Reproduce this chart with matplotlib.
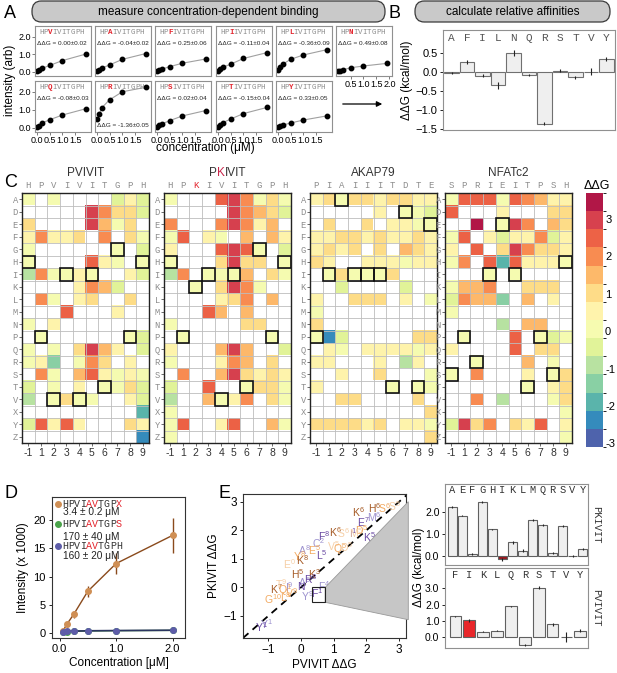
import numpy as np
import matplotlib
matplotlib.use("Agg")
import matplotlib.pyplot as plt
from matplotlib.colors import BoundaryNorm, ListedColormap
from matplotlib.patches import FancyBboxPatch, Rectangle, Polygon, FancyArrowPatch
from matplotlib.transforms import offset_copy

plt.rcParams['font.family'] = ['Liberation Sans', 'DejaVu Sans']
plt.rcParams['mathtext.default'] = 'regular'

# ---------------- DATA ----------------
# Panel A
conc_A = [0.03, 0.1, 0.2, 0.5, 1.0, 1.9]
peptides_A = ["HPVIVITGPH", "HPAIVITGPH", "HPFIVITGPH", "HPIIVITGPH", "HPLIVITGPH", "HPNIVITGPH",
              "HPQIVITGPH", "HPRIVITGPH", "HPSIVITGPH", "HPTIVITGPH", "HPYIVITGPH"]
ddg_text_A = ["0.00±0.02", "-0.04±0.02", "0.25±0.06", "-0.11±0.04", "-0.36±0.09", "0.49±0.08",
              "-0.08±0.03", "-1.36±0.05", "0.02±0.04", "-0.15±0.04", "0.33±0.05"]
intensity_A = [
    [0.02, 0.08, 0.18, 0.35, 0.63, 1.00],
    [0.03, 0.10, 0.20, 0.38, 0.70, 1.03],
    [0.02, 0.07, 0.14, 0.28, 0.48, 0.72],
    [0.04, 0.15, 0.25, 0.42, 0.75, 1.08],
    [0.12, 0.25, 0.42, 0.70, 0.95, 1.25],
    [0.02, 0.05, 0.10, 0.22, 0.32, 0.47],
    [0.03, 0.10, 0.25, 0.43, 0.70, 1.05],
    [0.45, 0.75, 1.10, 1.55, 2.00, 2.25],
    [0.05, 0.12, 0.20, 0.38, 0.65, 0.95],
    [0.05, 0.16, 0.27, 0.47, 0.78, 1.12],
    [0.02, 0.08, 0.14, 0.25, 0.42, 0.65],
]

# Panel B
aa_B = ["A", "F", "I", "L", "N", "Q", "R", "S", "T", "V", "Y"]
ddg_B = [-0.04, 0.25, -0.11, -0.36, 0.49, -0.08, -1.36, 0.02, -0.15, 0.0, 0.33]
err_B = [0.02, 0.06, 0.04, 0.09, 0.08, 0.03, 0.05, 0.04, 0.04, 0.10, 0.05]

# Panel C
rows_C = list("ADEFGHIKLMNPQRSTVXYZ")
cols_C = ["-1", "1", "2", "3", "4", "5", "6", "7", "8", "9"]
n = np.nan
titles_C = ["PVIVIT", "PKIVIT", "AKAP79", "NFATc2"]
seqs_C = ["HPVIVITGPH", "HPKIVITGPH", "PIAIIITDTE", "SPRIEITPSH"]
ddg_pvivit = [
    [0.1, n, 0.1, n, n, n, n, -0.4, 0.5, -0.4],
    [n, n, n, n, n, 2.8, 2.0, 0.8, 1.1, -0.2],
    [1.0, n, n, n, n, 2.8, 1.3, 0.0, 0.8, n],
    [0.5, 2.0, 0.5, 0.7, 0.8, n, 2.0, n, 0.9, 0.3],
    [0.3, n, n, n, n, n, n, 0.0, n, -0.4],
    [0.0, n, n, n, n, 2.5, 0.6, 0.1, n, 0.0],
    [-1.0, 1.8, 0.2, 0.0, 0.6, 0.0, n, n, 0.7, -0.3],
    [n, n, n, n, 0.7, 2.0, 1.3, -0.3, n, n],
    [n, 1.9, 0.0, n, 0.6, 0.8, n, n, 0.9, n],
    [n, n, n, 2.5, n, n, n, 0.5, n, n],
    [0.0, n, 0.5, n, n, n, n, n, n, n],
    [n, 0.0, n, n, n, n, n, n, 0.0, -0.3],
    [0.3, n, 0.1, n, 1.2, 2.8, 1.5, 0.7, n, -0.5],
    [0.2, 0.7, -1.2, n, 0.1, 2.2, 1.0, n, 0.7, n],
    [n, 1.9, 0.3, n, 1.6, 2.6, 0.7, 0.3, 0.7, 0.3],
    [-0.3, n, 0.0, n, 0.5, n, 0.0, 0.3, 1.0, -0.2],
    [-0.9, n, 0.0, 1.1, 0.0, 0.3, n, n, 0.4, -0.2],
    [n, n, n, n, n, n, n, n, n, -2.0],
    [-0.4, 2.3, 0.5, 2.6, 0.5, n, n, n, 0.9, 0.4],
    [n, n, n, n, n, n, n, n, n, -2.5],
]
ddg_pkivit = [
    [0.1, n, n, n, 2.4, 3.1, 2.1, 0.2, 0.8, 0.3],
    [n, n, n, n, n, 3.0, 2.1, 1.3, 1.2, -0.2],
    [1.8, n, n, n, 1.8, 2.8, 1.9, 0.6, 1.4, n],
    [0.1, 2.4, n, 0.6, 0.3, n, 1.6, n, 1.6, 0.5],
    [0.5, n, n, n, 2.5, 3.1, 2.6, 0.0, n, -0.3],
    [0.0, n, n, n, 1.2, 2.8, 0.8, 0.8, n, 0.0],
    [-1.1, 1.8, n, 0.0, 0.2, 0.0, 1.7, n, 1.0, 0.2],
    [n, n, 0.0, n, 0.9, 2.8, 2.0, 0.2, n, n],
    [n, n, n, n, 0.6, 1.2, 1.8, n, 1.4, n],
    [n, n, n, 2.6, 1.6, n, 1.7, n, n, n],
    [0.2, n, n, n, n, n, 1.2, 1.1, n, n],
    [n, 0.0, n, n, n, n, n, n, 0.0, n],
    [0.4, n, n, n, 1.5, 2.9, 1.6, n, n, -0.2],
    [0.3, n, n, n, 0.7, 2.2, 1.4, n, 1.0, n],
    [n, 1.8, n, n, 1.5, 2.8, 0.8, 0.7, 1.2, 0.4],
    [-0.2, n, n, 2.6, n, n, 0.0, 0.8, 1.2, 0.3],
    [-1.0, n, n, 1.6, 0.0, 0.6, 1.8, n, 0.9, 0.3],
    [0.2, n, n, n, n, n, n, n, n, n],
    [0.2, 2.4, n, n, 0.6, 2.3, n, n, 1.6, 0.2],
    [0.2, n, n, n, n, n, n, n, n, n],
]
ddg_akap79 = [
    [0.7, 0.8, 0.0, 0.8, 0.8, 0.7, 0.8, 0.9, 0.6, 0.4],
    [n, n, n, n, n, 0.7, n, 0.0, 0.1, -0.2],
    [n, 1.0, n, n, 0.8, n, 0.4, 0.6, 0.2, 0.0],
    [0.6, 0.7, 0.9, 0.9, 0.7, 0.9, 0.6, 0.6, 0.9, 0.5],
    [0.6, 0.8, 0.7, 0.8, n, 0.8, n, 1.4, 1.1, 0.5],
    [0.8, 0.6, n, n, 0.7, 0.7, 0.5, 0.0, 0.4, 0.4],
    [n, 0.0, 0.8, 0.0, 0.0, 0.0, 0.9, n, n, n],
    [n, n, -0.3, n, n, n, n, -0.4, n, n],
    [0.5, n, n, 0.8, 0.8, 0.8, n, 0.5, n, 0.3],
    [0.2, n, n, n, n, n, n, n, n, n],
    [0.8, n, n, n, n, n, n, n, n, n],
    [0.0, -2.4, -0.4, n, n, n, n, n, 0.8, 0.8],
    [n, 0.6, 0.2, n, 0.6, 0.7, 0.7, 0.4, 0.3, 0.5],
    [0.5, 0.7, n, n, n, 0.6, n, -0.8, 0.7, n],
    [n, n, 0.6, n, n, 0.8, n, n, n, 0.3],
    [0.5, n, n, n, n, n, 0.0, n, 0.0, 0.2],
    [n, n, 0.8, 0.8, n, n, n, n, 0.8, n],
    [n, n, n, n, n, n, n, n, n, 0.8],
    [0.8, 0.8, 0.9, 0.9, 0.7, 1.2, n, 0.5, 0.7, 0.3],
    [n, n, n, n, n, n, n, n, n, 0.8],
]
ddg_nfatc2 = [
    [0.1, 2.7, 2.4, 2.5, 0.2, 2.5, 1.9, 1.5, 0.6, 0.6],
    [2.5, n, n, n, 0.6, n, n, n, 1.2, 0.8],
    [n, n, 3.5, n, 0.0, 2.9, 2.2, n, 1.3, 1.2],
    [0.1, 2.7, n, 0.5, -0.4, 0.7, 0.6, 2.2, -0.2, 0.5],
    [0.5, n, 2.7, n, 1.0, 2.8, 2.0, 1.0, 0.8, 0.4],
    [-0.1, 1.8, n, 2.3, -2.0, 2.4, 0.4, 0.4, 0.6, 0.0],
    [n, n, n, 0.0, n, 0.0, n, n, n, n],
    [0.0, 1.3, 1.3, 2.1, n, n, 0.9, 0.9, 0.8, n],
    [-0.6, 2.2, 1.5, 1.3, -1.4, n, 1.4, n, 0.6, n],
    [0.0, n, n, n, n, n, n, n, n, n],
    [n, n, n, n, -0.8, n, 1.5, 1.5, n, n],
    [n, 0.0, n, n, n, 2.4, n, 0.0, -0.4, -0.1],
    [0.4, n, n, n, n, 2.7, n, 0.8, 1.0, n],
    [n, n, 0.0, n, n, n, 1.4, n, 0.3, n],
    [0.0, n, 2.2, n, n, n, 0.5, n, 0.0, 1.0],
    [n, n, n, n, n, n, 0.0, n, 0.5, 1.2],
    [n, n, 2.0, n, -1.1, n, n, n, 0.3, 0.8],
    [n, n, n, n, n, n, n, n, n, 0.3],
    [-0.5, 2.8, 1.0, 1.8, n, 1.2, 0.6, 2.3, n, 0.5],
    [n, n, n, n, n, n, n, n, n, 0.2],
]
cbar_ticks = [-3, -2, -1, 0, 1, 2, 3]

# Panel D
conc_D = [0.0625, 0.125, 0.25, 0.5, 1.0, 2.0]
int_X = [0.4, 1.5, 3.3, 7.4, 12.3, 17.3]
err_X = [0.3, 0.4, 0.6, 1.0, 1.9, 3.1]
int_S = [0.2, 0.25, 0.3, 0.35, 0.4, 0.45]
err_S = [0.1, 0.1, 0.1, 0.1, 0.1, 0.1]
int_H = [0.25, 0.3, 0.32, 0.38, 0.42, 0.48]
err_H = [0.1, 0.1, 0.1, 0.1, 0.1, 0.1]
legend_D = [("HPVIAVTGPX", "3.4 ± 0.2 μM"), ("HPVIAVTGPS", "170 ± 40 μM"), ("HPVIAVTGPH", "160 ± 20 μM")]

# Panel E scatter (PVIVIT ddG, PKIVIT ddG)
lab_E = ["K", "H", "S", "S", "E", "M", "I", "D", "K", "F", "K", "S", "C", "E", "L", "V", "Q", "D",
         "A", "Y", "K", "E", "H", "K", "A", "N", "F", "K", "F", "G", "L", "Y", "Y", "I", "T", "Y",
         "V", "R", "Q", "M"]
sup_E = ["6", "6", "6", "5", "7", "6", "1", "5", "5", "8", "6", "6", "2", "5", "5", "5", "5", "5",
         "8", "8", "8", "0", "5", "3", "5", "", "4", "7", "1", "10", "8", "1", "1", "9", "9", "9",
         "9", "8", "1", "5"]
pv_E = [1.75, 2.25, 2.55, 2.85, 1.9, 2.25, 1.6, 1.85, 2.1, 0.7, 1.05, 1.3, 0.55, 0.4, 0.65, 1.0, 1.2, 1.4,
        0.1, -0.05, 0.05, -0.35, -0.1, 0.4, 0.1, 0.0, 0.7, -0.75, 0.5, -0.85, -0.45, -1.05, -1.2, -0.35,
        -0.6, 0.2, -0.3, 0.3, -0.5, 1.7]
pk_E = [2.65, 2.78, 2.78, 2.85, 2.28, 2.45, 1.9, 2.02, 1.75, 1.78, 1.95, 1.9, 1.55, 1.3, 1.12, 1.45, 1.35,
        1.4, 1.3, 1.1, 0.95, 0.8, 0.45, 0.45, 0.2, 0.0, 0.05, -0.05, -0.2, -0.4, -0.35, -1.3, -1.4, 0.0,
        0.1, -0.3, -0.2, 0.3, -0.1, 1.9]
grp_E = ["b", "b", "o", "p", "u", "l", "u", "o", "u", "u", "b", "p", "l", "o", "u", "p", "o", "p",
         "l", "o", "b", "p", "b", "b", "l", "u", "l", "b", "u", "o", "o", "l", "u", "l", "p", "l",
         "o", "u", "o", "p"]

aa_Etop = ["A", "E", "F", "G", "H", "I", "K", "L", "M", "Q", "R", "S", "V", "Y"]
ddg_Etop = [2.22, 1.83, 0.08, 2.45, 1.2, -0.15, 0.62, 0.25, 1.63, 1.42, 0.15, 1.37, 0.0, 0.33]
err_Etop = [0.05, 0.04, 0.05, 0.05, 0.04, 0.08, 0.06, 0.07, 0.05, 0.05, 0.05, 0.04, 0.03, 0.05]
aa_Ebot = ["F", "I", "K", "L", "Q", "R", "S", "T", "V", "Y"]
ddg_Ebot = [1.3, 1.05, 0.35, 0.42, 1.9, -0.45, 3.05, 0.8, 0.0, 0.42]
err_Ebot = [0.04, 0.1, 0.05, 0.05, 0.03, 0.05, 0.1, 0.08, 0.3, 0.1]

# ---------------- FIGURE ----------------
W, H = 617, 673
fig = plt.figure(figsize=(W / 100, H / 100), dpi=100)
MONO = 'Liberation Mono'
GRAY = '#8c8c8c'
RED = '#e3232c'


def pbox(x0, y0, x1, y1):
    return [x0 / W, 1 - y1 / H, (x1 - x0) / W, (y1 - y0) / H]


def fx(x):
    return x / W


def fy(y):
    return 1 - y / H


def mono_string(x, y, s, colors, size, transform, weights=None, **kw):
    cw = 0.6 * size
    for i, ch in enumerate(s):
        tr = offset_copy(transform, fig=fig, x=(i + 0.5) * cw, y=0, units='points')
        fig.text(x, y, ch, color=colors[i], fontsize=size, family=MONO, transform=tr,
                 ha='center', fontweight=(weights[i] if weights else 'normal'), **kw)


def panel_label(x, y, s):
    fig.text(fx(x), fy(y), s, fontsize=13, ha='left', va='center')


# banners
for x0, x1, lab in [(32, 385, 'measure concentration-dependent binding'),
                    (415, 610, 'calculate relative affinities')]:
    p = FancyBboxPatch((fx(x0), fy(22)), (x1 - x0) / W, 21 / H,
                       boxstyle='round,pad=0,rounding_size=0.0150', transform=fig.transFigure,
                       fc='#c9c9c9', ec='#3a3a3a', lw=0.9)
    fig.patches.append(p)
    fig.text(fx((x0 + x1) / 2), fy(12), lab, ha='center', va='center', fontsize=8.5)

panel_label(4, 13, 'A')
panel_label(388, 13, 'B')
panel_label(4, 183, 'C')
panel_label(4, 493, 'D')
panel_label(218, 493, 'E')

# ---------- Panel A ----------
lefts_A = [35, 95, 155, 216, 276, 336]
rows_A = [(26, 76), (81, 132)]
for k, pep in enumerate(peptides_A):
    r = 0 if k < 6 else 1
    c = k if k < 6 else k - 6
    ax = fig.add_axes(pbox(lefts_A[c], rows_A[r][0], lefts_A[c] + 56, rows_A[r][1]))
    ax.plot(conc_A, intensity_A[k], color='#a0a0a0', lw=0.8, zorder=1)
    ax.plot(conc_A, intensity_A[k], 'o', color='black', ms=3.2, zorder=2)
    ax.set_xlim(-0.06, 2.1)
    ax.set_ylim(-0.25, 2.6)
    for s in ax.spines.values():
        s.set_color('#909090')
        s.set_linewidth(0.8)
    ax.tick_params(labelsize=6.5, length=2, width=0.6, color='#666', pad=1)
    ax.set_yticks([0, 1, 2])
    if c == 0:
        ax.set_yticklabels(['0.0', '1.0', '2.0'])
    else:
        ax.set_yticklabels([])
        ax.tick_params(axis='y', length=0)
    if r == 1:
        ax.set_xticks([0, 0.5, 1.0, 1.5])
        ax.set_xticklabels(['0.0', '0.5', '1.0', '1.5'])
    elif k == 5:
        ax.set_xticks([0.5, 1.0, 1.5, 2.0])
        ax.set_xticklabels(['0.5', '1.0', '1.5', '2.0'])
    else:
        ax.set_xticks([])
    colors = [GRAY] * 10
    colors[2] = RED
    weights = ['normal'] * 10
    weights[2] = 'bold'
    mono_string(0.07, 0.87, pep, colors, 5.4, ax.transAxes, weights=weights, va='center')
    ty = 0.12 if pep[2] == 'R' else 0.66
    ax.text(0.04, ty, 'ΔΔG = ' + ddg_text_A[k], transform=ax.transAxes, fontsize=4.6,
            va='center', ha='left', color='#222')

fig.text(fx(10), fy(80), 'intensity (arb)', rotation=90, ha='center', va='center', fontsize=8.5)
fig.text(fx(205), fy(148), 'concentration (μM)', ha='center', va='center', fontsize=8.5)
arr = FancyArrowPatch((fx(340), fy(104)), (fx(385), fy(104)), transform=fig.transFigure,
                      arrowstyle='-|>', mutation_scale=8, color='black', lw=0.9)
fig.patches.append(arr)

# ---------- Panel B ----------
axB = fig.add_axes(pbox(443, 30, 615, 130))
xB = np.arange(len(aa_B))
axB.bar(xB, ddg_B, width=0.92, color='#efefef', edgecolor='#707070', lw=0.8)
axB.errorbar(xB, ddg_B, yerr=err_B, fmt='none', ecolor='#222', elinewidth=0.8, capsize=0)
axB.set_xlim(-0.55, len(aa_B) - 0.45)
axB.set_ylim(-1.53, 1.09)
axB.set_yticks([-1.5, -1.0, -0.5, 0.0, 0.5])
axB.set_yticklabels(['−1.5', '−1.0', '−0.5', '0.0', '0.5'])
axB.set_xticks([])
axB.tick_params(labelsize=8, length=2.5, width=0.6, pad=1.5)
for s in axB.spines.values():
    s.set_color('#909090')
    s.set_linewidth(0.8)
for i, a in enumerate(aa_B):
    axB.text(i, 0.88, a, ha='center', va='center', family=MONO, fontsize=8, color='#555')
axB.set_ylabel('ΔΔG (kcal/mol)', fontsize=8.5, labelpad=2)

# ---------- Panel C ----------
bounds = np.linspace(-3.1, 3.7, 15)
base = plt.get_cmap('Spectral_r')
cmap = ListedColormap(base((np.arange(14) + 0.5) / 14))
cmap.set_bad('white')
norm = BoundaryNorm(bounds, cmap.N)
lefts_C = [22, 164, 310, 445]
datasets = [ddg_pvivit, ddg_pkivit, ddg_akap79, ddg_nfatc2]
for h in range(4):
    ax = fig.add_axes(pbox(lefts_C[h], 193, lefts_C[h] + 127, 443))
    arrd = np.ma.masked_invalid(np.array(datasets[h], dtype=float))
    ax.imshow(arrd, cmap=cmap, norm=norm, aspect='auto', interpolation='nearest',
              extent=(-0.5, 9.5, 19.5, -0.5))
    ax.set_xticks(np.arange(-0.5, 10, 1), minor=True)
    ax.set_yticks(np.arange(-0.5, 20, 1), minor=True)
    ax.grid(which='minor', color='#bdbdbd', lw=0.6)
    ax.tick_params(which='minor', length=0)
    ax.set_xticks(range(10))
    ax.set_xticklabels(cols_C)
    ax.set_yticks(range(20))
    ax.set_yticklabels(rows_C, family=MONO, color=GRAY)
    ax.tick_params(axis='y', labelsize=6.3, length=2, width=0.6, color='#555', pad=1)
    ax.tick_params(axis='x', labelsize=7.5, length=2, width=0.6, color='#555', pad=1.5,
                   labelcolor='#333')
    ax.set_xlim(-0.5, 9.5)
    ax.set_ylim(19.5, -0.5)
    for s in ax.spines.values():
        s.set_color('#222')
        s.set_linewidth(1.0)
    seq = seqs_C[h]
    for j, ch in enumerate(seq):
        col = RED if (h == 1 and j == 2) else GRAY
        ax.text(j, -0.75, ch, ha='center', va='bottom', family=MONO, fontsize=6.5, color=col,
                clip_on=False)
        i = rows_C.index(ch)
        ax.add_patch(Rectangle((j - 0.5, i - 0.5), 1, 1, fill=False, ec='#111', lw=1.2, zorder=5))
    title = titles_C[h]
    if h == 1:
        t0 = ax.text(0.5, 1.055, title, transform=ax.transAxes, ha='center', va='bottom',
                     fontsize=8.5, alpha=0)
        t1 = ax.annotate('P', xy=(0, 0), xycoords=t0, ha='left', va='bottom', fontsize=8.5,
                         color='#333', annotation_clip=False)
        t2 = ax.annotate('K', xy=(1, 0), xycoords=t1, ha='left', va='bottom', fontsize=8.5,
                         color='#c8254a', annotation_clip=False)
        ax.annotate('IVIT', xy=(1, 0), xycoords=t2, ha='left', va='bottom', fontsize=8.5,
                    color='#333', annotation_clip=False)
    else:
        ax.text(0.5, 1.055, title, transform=ax.transAxes, ha='center', va='bottom',
                fontsize=8.5, color='#333')

cax = fig.add_axes(pbox(586, 193, 603, 447))
cb = fig.colorbar(plt.cm.ScalarMappable(norm=norm, cmap=cmap), cax=cax, ticks=cbar_ticks)
cb.outline.set_visible(False)
cax.tick_params(length=0, labelsize=8, pad=1.5)
cax.set_yticklabels([str(t) for t in cbar_ticks])
fig.text(fx(597), fy(186), 'ΔΔG', ha='center', va='center', fontsize=9)

# ---------- Panel D ----------
axD = fig.add_axes(pbox(52, 497, 185, 638))
axD.errorbar(conc_D, int_X, yerr=err_X, color='#8a4a1c', lw=1.0, elinewidth=1.0, marker='o',
             ms=4, mfc='#cf8f55', mec='#cf8f55', capsize=0, zorder=3)
axD.errorbar(conc_D, int_S, yerr=err_S, color='#2f7a2f', lw=1.0, marker='o', ms=4,
             mfc='#4aa34a', mec='#4aa34a', capsize=0, zorder=2)
axD.errorbar(conc_D, int_H, yerr=err_H, color='#2b3560', lw=1.2, marker='o', ms=4,
             mfc='#5d5ca8', mec='#5d5ca8', capsize=0, zorder=4)
axD.set_xlim(-0.135, 2.22)
axD.set_ylim(-0.9, 24.1)
axD.set_xticks([0, 1, 2])
axD.set_xticklabels(['0.0', '1.0', '2.0'])
axD.set_yticks([0, 5, 10, 15, 20])
axD.tick_params(labelsize=8, length=2.5, width=0.6, pad=2)
for s in axD.spines.values():
    s.set_color('#333')
    s.set_linewidth(0.8)
axD.set_xlabel('Concentration [μM]', fontsize=8.5, labelpad=2)
axD.set_ylabel('Intensity (x 1000)', fontsize=8.5, labelpad=3)
mk_cols = ['#cf8f55', '#4aa34a', '#5d5ca8']
leg_y = [(504, 511), (524, 536), (546, 555)]
for (pep, kd), mc, (y1, y2) in zip(legend_D, mk_cols, leg_y):
    fig.add_artist(plt.Line2D([fx(58)], [fy(y1)], marker='o', ms=4, color=mc,
                              transform=fig.transFigure))
    colors = ['#333'] * 10
    colors[4] = RED
    colors[5] = RED
    if pep[-1] != 'H':
        colors[9] = RED
    mono_string(fx(62), fy(y1), pep, colors, 7.2, fig.transFigure, va='center')
    fig.text(fx(63), fy(y2 + 1), kd, fontsize=7.3, va='center', color='#222')

# ---------- Panel E ----------
axE = fig.add_axes(pbox(243, 494, 406, 638))
axE.set_xlim(-1.77, 3.21)
axE.set_ylim(-1.77, 3.27)
axE.plot([-1.77, 3.27], [-1.77, 3.27], ls=(0, (4, 3)), color='black', lw=1.3, zorder=1)
grp_col = {'b': '#a55a25', 'o': '#f2aa62', 'u': '#6a4aa3', 'l': '#9d92cf', 'p': '#f6cfa6'}
for L, sp, x, y, g in zip(lab_E, sup_E, pv_E, pk_E, grp_E):
    s = L if sp == '' else L + '$^{' + sp + '}$'
    axE.text(x, y, s, color=grp_col[g], fontsize=7.5, ha='center', va='center', zorder=2)
axE.add_patch(Polygon([(0.74, 0.0), (3.28, 3.0), (3.28, -1.13), (0.74, -0.52)], closed=True,
                      fc='#c6c6c6', ec='#999', lw=0.6, clip_on=False, zorder=3))
axE.add_patch(Rectangle((0.35, -0.52), 0.39, 0.52, fill=False, ec='#222', lw=0.8, zorder=4))
axE.set_xticks([-1, 0, 1, 2, 3])
axE.set_xticklabels(['−1', '0', '1', '2', '3'])
axE.set_yticks([-1, 0, 1, 2, 3])
axE.set_yticklabels(['−1', '0', '1', '2', '3'])
axE.tick_params(labelsize=8.5, length=2.5, width=0.6, pad=2)
for s in axE.spines.values():
    s.set_color('#333')
    s.set_linewidth(0.8)
axE.set_xlabel('PVIVIT ΔΔG', fontsize=8.5, labelpad=2)
axE.set_ylabel('PKIVIT ΔΔG', fontsize=8.5, labelpad=2)


def side_bars(box, aa, vals, errs, ylim, yt, ylet, red_idx, red_col, side_lab):
    ax = fig.add_axes(box)
    x = np.arange(len(aa))
    cols = ['#efefef'] * len(aa)
    cols[red_idx] = red_col
    ax.bar(x, vals, width=0.85, color=cols, edgecolor='#606060', lw=0.8)
    ax.errorbar(x, vals, yerr=errs, fmt='none', ecolor='#222', elinewidth=0.8, capsize=0)
    ax.set_xlim(-0.75, len(aa) - 0.45)
    ax.set_ylim(*ylim)
    ax.set_yticks(yt)
    ax.set_yticklabels(['%.1f' % v for v in yt])
    ax.set_xticks([])
    ax.tick_params(labelsize=7.5, length=2.5, width=0.6, pad=1.5)
    for s in ax.spines.values():
        s.set_color('#909090')
        s.set_linewidth(0.8)
    for i, a in enumerate(aa):
        ax.text(i, ylet, a, ha='center', va='center', family=MONO, fontsize=7.5, color='#333')
    ax.text(1.06, 0.5, side_lab, transform=ax.transAxes, rotation=270, ha='center', va='center',
            family=MONO, fontsize=7.5, color='#333')
    return ax


side_bars(pbox(445, 484, 588, 565), aa_Etop, ddg_Etop, err_Etop, (-0.4, 3.25), [0.0, 1.0, 2.0],
          2.98, aa_Etop.index('I'), '#9c1a1f', 'PKIVIT')
side_bars(pbox(445, 568, 588, 648), aa_Ebot, ddg_Ebot, err_Ebot, (-0.65, 4.25),
          [0.0, 1.0, 2.0, 3.0], 3.85, aa_Ebot.index('I'), '#e8262a', 'PVIVIT')
fig.text(fx(419), fy(567), 'ΔΔG (kcal/mol)', rotation=90, ha='center', va='center', fontsize=8.5)

fig.savefig('out.png', dpi=100)
